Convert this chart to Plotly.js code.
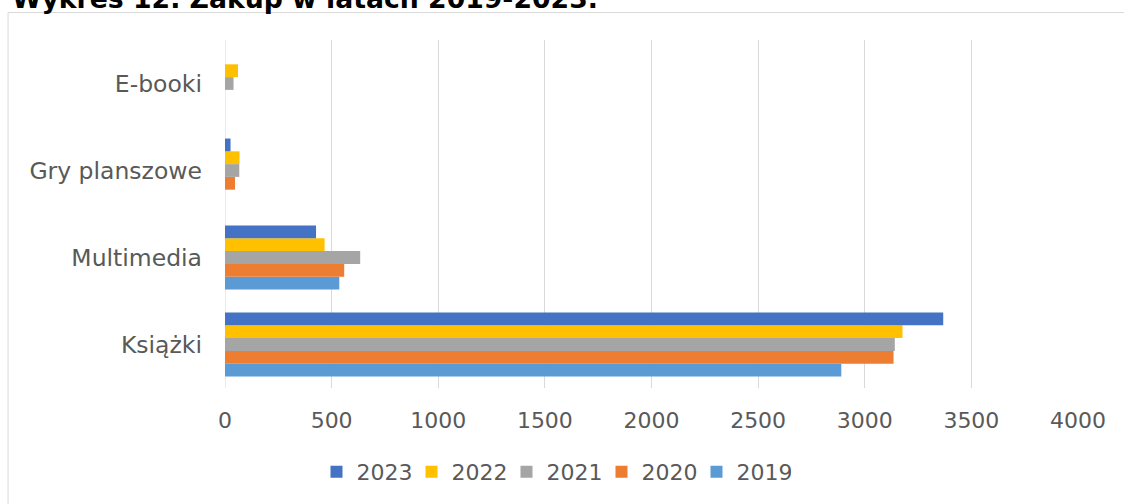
<!DOCTYPE html>
<html>
<head>
<meta charset="utf-8">
<script src="https://cdn.plot.ly/plotly-3.0.1.min.js"></script>
<style>html,body{margin:0;padding:0;background:#fff;}#chart{width:1124px;height:504px;}</style>
</head>
<body>
<div id="chart"></div>
<script>
const categories = ['Książki', 'Multimedia', 'Gry planszowe', 'E-booki'];
const years = ['2019', '2020', '2021', '2022', '2023'];
const v2019 = [2890, 536, 0, 0];
const v2020 = [3135, 559, 47, 0];
const v2021 = [3141, 634, 67, 40];
const v2022 = [3177, 467, 68, 61];
const v2023 = [3368, 427, 26, 0];
const seriesValues = [v2019, v2020, v2021, v2022, v2023];
const colors = ['#5B9BD5', '#ED7D31', '#A5A5A5', '#FFC000', '#4472C4'];
const xTicks = [0, 500, 1000, 1500, 2000, 2500, 3000, 3500, 4000];
const titleText = 'Wykres 12. Zakup w latach 2019-2023.';

const traces = years.map((y, i) => ({
  type: 'bar',
  orientation: 'h',
  name: y,
  y: categories,
  x: seriesValues[i],
  marker: {color: colors[i]},
  hoverinfo: 'x+name'
}));

const L = 225.3, R = 1077.7, T = 40, B = 388, W = 1124, H = 504;
const layout = {
  width: W, height: H,
  margin: {l: L, r: W - R, t: T, b: H - B, pad: 0},
  paper_bgcolor: '#ffffff',
  plot_bgcolor: '#ffffff',
  font: {family: 'DejaVu Sans, Verdana, sans-serif', color: '#595959', size: 22},
  title: {
    text: '<b>' + titleText + '</b>',
    font: {family: 'DejaVu Sans, Verdana, sans-serif', size: 26.7, color: '#000000'},
    x: 12 / W, xref: 'container', xanchor: 'left',
    y: 1 - 7.5 / H, yref: 'container', yanchor: 'bottom'
  },
  barmode: 'group',
  bargap: 0.265,
  bargroupgap: 0,
  xaxis: {
    range: [0, 4000],
    tickvals: xTicks,
    ticktext: xTicks.map(String),
    showgrid: true,
    gridcolor: '#D9D9D9',
    gridwidth: 1,
    zeroline: false,
    showline: false,
    ticks: '',
    ticklabelstandoff: 17,
    tickfont: {size: 22, color: '#595959'},
    fixedrange: true
  },
  yaxis: {
    type: 'category',
    categoryorder: 'array',
    categoryarray: categories,
    showgrid: false,
    zeroline: false,
    showline: false,
    ticks: '',
    ticklabelstandoff: 22,
    tickfont: {size: 23.5, color: '#595959'},
    fixedrange: true
  },
  shapes: [
    {type: 'line', xref: 'x', yref: 'paper', x0: 0, x1: 0, y0: 0, y1: 1,
     line: {color: '#D9D9D9', width: 1}, layer: 'below'},
    {type: 'rect', xref: 'paper', yref: 'paper',
     x0: (8.5 - L) / (R - L), x1: (1130 - L) / (R - L),
     y0: (B - 520) / (B - T), y1: (B - 12.5) / (B - T),
     line: {color: '#D9D9D9', width: 1}, fillcolor: 'rgba(0,0,0,0)', layer: 'below'}
  ],
  showlegend: true,
  legend: {
    orientation: 'h',
    traceorder: 'reversed',
    entrywidth: 50,
    entrywidthmode: 'pixels',
    xref: 'container', yref: 'container',
    x: 554 / W, xanchor: 'center',
    y: 1 - 472 / H, yanchor: 'middle',
    font: {size: 22, color: '#595959'},
    bgcolor: 'rgba(0,0,0,0)'
  }
};

Plotly.newPlot('chart', traces, layout, {displayModeBar: false, staticPlot: true});
</script>
</body>
</html>
